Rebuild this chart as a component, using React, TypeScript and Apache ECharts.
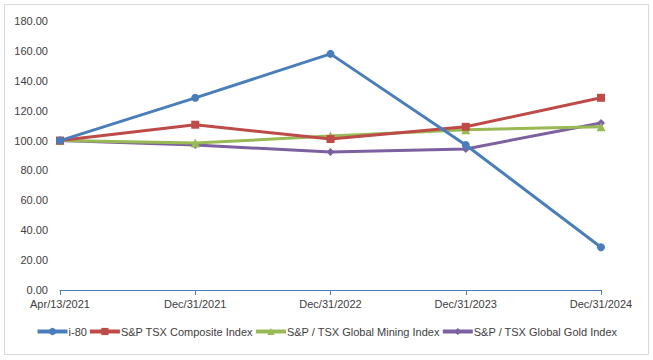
import React, { useEffect, useRef } from "react";
import * as echarts from "echarts";

const categories = ["Apr/13/2021", "Dec/31/2021", "Dec/31/2022", "Dec/31/2023", "Dec/31/2024"];
const i80 = [100, 128.6, 158, 97, 28.6];
const tsxComposite = [100, 110.6, 101, 109.2, 128.6];
const tsxMining = [100, 98.3, 103, 107.2, 109.2];
const tsxGold = [100, 97, 92.3, 94.4, 111.8];
const seriesNames = ["i-80", "S&P TSX Composite Index", "S&P / TSX Global Mining Index", "S&P / TSX Global Gold Index"];
const colors = ["#4a7ebb", "#be4b48", "#98b954", "#7d60a0"];
const symbols = ["circle", "rect", "triangle", "diamond"];

export default function App() {
  const ref = useRef<HTMLDivElement>(null);
  useEffect(() => {
    if (!ref.current) return;
    const chart = echarts.init(ref.current, undefined, { renderer: "svg" });
    const data = [i80, tsxComposite, tsxMining, tsxGold];
    const font = "'Liberation Sans', Arial, sans-serif";
    chart.setOption({
      animation: false,
      backgroundColor: "#ffffff",
      graphic: [
        {
          type: "rect",
          shape: { x: 4.5, y: 4.5, width: 644, height: 350 },
          style: { fill: "none", stroke: "#d9d9d9", lineWidth: 1 },
          silent: true,
        },
      ],
      grid: { left: 60, right: 52, top: 21, bottom: 70, containLabel: false },
      legend: {
        bottom: 18,
        left: "center",
        itemWidth: 30,
        itemHeight: 9,
        itemGap: 1,
        lineStyle: { width: 4 },
        textStyle: { fontFamily: font, fontSize: 11, color: "#404040", padding: [0, 0, 0, -4] },
        data: seriesNames,
      },
      xAxis: {
        type: "category",
        data: categories,
        boundaryGap: false,
        axisLine: { show: true, lineStyle: { color: "#4a7ebb", width: 1 } },
        axisTick: { show: true, alignWithLabel: true, length: 5, inside: false, lineStyle: { color: "#4a7ebb" } },
        axisLabel: { fontFamily: font, fontSize: 11, color: "#404040", margin: 8 },
        splitLine: { show: false },
      },
      yAxis: {
        type: "value",
        min: 0,
        max: 180,
        interval: 20,
        axisLine: { show: false },
        axisTick: { show: false },
        splitLine: { show: false },
        axisLabel: {
          fontFamily: font,
          fontSize: 11,
          color: "#404040",
          margin: 12,
          formatter: (v: number) => v.toFixed(2),
        },
      },
      series: seriesNames.map((name, i) => ({
        name,
        type: "line",
        data: data[i],
        symbol: symbols[i],
        symbolSize: i === 2 ? 9 : 8,
        lineStyle: { color: colors[i], width: 3 },
        itemStyle: { color: colors[i] },
        z: 10 - i,
      })),
    });
    return () => chart.dispose();
  }, []);
  return (
    <div
      ref={ref}
      style={{ width: 653, height: 360, position: "absolute", left: 0, top: 0 }}
    />
  );
}
